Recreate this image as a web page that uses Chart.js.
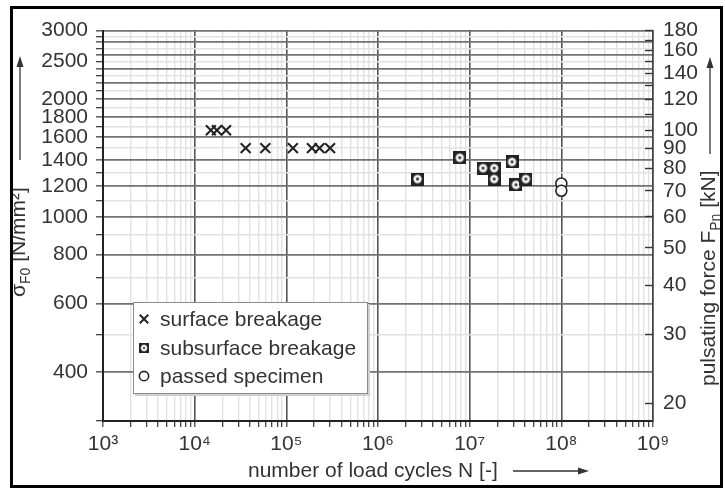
<!DOCTYPE html>
<html>
<head>
<meta charset="utf-8">
<script src="https://cdn.jsdelivr.net/npm/chart.js@4/dist/chart.umd.min.js"></script>
<style>
  html, body { margin: 0; padding: 0; background: #fff; }
  #wrap { position: relative; width: 725px; height: 490px; overflow: hidden; }
  #chart { position: absolute; left: 0; top: 0; }
  #frame { position: absolute; left: 10px; top: 6px; width: 713px; height: 482px;
           border: 3px solid #000; box-sizing: border-box; pointer-events: none; }
  #legend { position: absolute; left: 133px; top: 302px; width: 235px; height: 92px;
            border: 1px solid #8a8a8a; background: #fff; box-sizing: border-box;
            box-shadow: 2px 2px 0 #d0d0d0;
            font: 21px "Liberation Sans", Arial, sans-serif; color: #333; }
  #legend .item { position: absolute; left: 0; height: 26px; line-height: 26px; white-space: nowrap; }
  #legend .item canvas { position: absolute; left: 0; top: 3px; }
  #legend .item span { position: absolute; left: 26px; top: 0; }
</style>
</head>
<body>
<div id="wrap">
  <canvas id="chart" width="725" height="490"></canvas>
  <div id="legend"></div>
  <div id="frame"></div>
</div>
<script>
// Test results: load cycles N and tooth root stress sigma_F0 [N/mm²]
const surfaceCycles    = [1.5e4, 1.75e4, 2.2e4, 3.6e4, 5.9e4, 1.18e5, 1.9e5, 2.3e5, 3.0e5];
const surfaceStress    = [1667, 1667, 1667, 1500, 1500, 1500, 1500, 1500, 1500];
const subsurfaceCycles = [2.7e6, 7.8e6, 1.4e7, 1.85e7, 1.85e7, 2.9e7, 3.2e7, 4.1e7];
const subsurfaceStress = [1250, 1417, 1333, 1333, 1250, 1383, 1208, 1250];
const passedCycles     = [1e8, 1e8];
const passedStress     = [1217, 1167];

const seriesLabels      = ['surface breakage', 'subsurface breakage', 'passed specimen'];
const stressTickLabels  = [400, 600, 800, 1000, 1200, 1400, 1600, 1800, 2000, 2500, 3000];
const forceTickLabels   = [20, 30, 40, 50, 60, 70, 80, 90, 100, 120, 140, 160, 180];
const cycleExponents    = [3, 4, 5, 6, 7, 8, 9];

// Axis ranges: stress 300..3000 N/mm², pulsating force 18..180 kN (sigma = F * 1000/60)
const stressMin = 300, stressMax = 3000;
const forceMin = 18, forceMax = 180;

const FONT = '"Liberation Sans", Arial, sans-serif';
const SUP = { 3: '³', 4: '⁴', 5: '⁵', 6: '⁶', 7: '⁷', 8: '⁸', 9: '⁹' };

// tick positions: every 1..9 x 10^n on the cycle axis
const cycleTicks = [];
for (let n = cycleExponents[0]; n < cycleExponents[cycleExponents.length - 1]; n++) {
  for (let k = 1; k <= 9; k++) cycleTicks.push(k * Math.pow(10, n));
}
cycleTicks.push(Math.pow(10, cycleExponents[cycleExponents.length - 1]));

const stressTicks = [];
for (let v = stressMin; v <= stressMax; v += 100) stressTicks.push(v);

const forceTicks = [];
for (let v = 20; v <= forceMax; v += 10) forceTicks.push(v);

const isDecade = v => Math.abs(Math.log10(v) - Math.round(Math.log10(v))) < 1e-9;
const toPoints = (xs, ys) => xs.map((x, i) => ({ x: x, y: ys[i] }));

// square marker with a dotted ring for subsurface breakage
function makeSubsurfaceMarker(size) {
  const c = document.createElement('canvas');
  c.width = c.height = size;
  const g = c.getContext('2d');
  const m = size / 2;
  g.fillStyle = '#222';
  g.fillRect(0, 0, size, size);
  g.fillStyle = '#f4f4f4';
  g.beginPath(); g.arc(m, m, size * 0.32, 0, Math.PI * 2); g.fill();
  g.fillStyle = '#222';
  g.beginPath(); g.arc(m, m, size * 0.11, 0, Math.PI * 2); g.fill();
  return c;
}
const subsurfaceMarker = makeSubsurfaceMarker(13);

function drawArrow(ctx, x1, y1, x2, y2) {
  const a = Math.atan2(y2 - y1, x2 - x1), hl = 11, hw = 3.5;
  ctx.lineWidth = 1.3;
  ctx.beginPath();
  ctx.moveTo(x1, y1);
  ctx.lineTo(x2 - hl * 0.8 * Math.cos(a), y2 - hl * 0.8 * Math.sin(a));
  ctx.stroke();
  ctx.beginPath();
  ctx.moveTo(x2, y2);
  ctx.lineTo(x2 - hl * Math.cos(a) + hw * Math.sin(a), y2 - hl * Math.sin(a) - hw * Math.cos(a));
  ctx.lineTo(x2 - hl * Math.cos(a) - hw * Math.sin(a), y2 - hl * Math.sin(a) + hw * Math.cos(a));
  ctx.closePath();
  ctx.fill();
}

function drawRichText(ctx, parts, x, y) {
  let cx = x;
  parts.forEach(([t, sub]) => {
    ctx.font = (sub ? '14px ' : '21px ') + FONT;
    ctx.fillText(t, cx, y + (sub ? 5 : 0));
    cx += ctx.measureText(t).width;
  });
}

// axis titles with subscripts and direction arrows
const axisTitles = {
  id: 'axisTitles',
  afterDraw(chart) {
    const ctx = chart.ctx;
    ctx.save();
    ctx.fillStyle = '#333';
    ctx.strokeStyle = '#333';
    ctx.textBaseline = 'alphabetic';
    ctx.textAlign = 'left';

    drawRichText(ctx, [['number of load cycles N [-]']], 248, 477);
    drawArrow(ctx, 513, 471, 589, 471);

    ctx.save();
    ctx.translate(25, 297);
    ctx.rotate(-Math.PI / 2);
    drawRichText(ctx, [['σ'], ['F0', true], [' [N/mm²]']], 0, 0);
    ctx.restore();
    drawArrow(ctx, 20, 160, 20, 56);

    ctx.save();
    ctx.translate(715, 386);
    ctx.rotate(-Math.PI / 2);
    drawRichText(ctx, [['pulsating force F'], ['Pn', true], [' [kN]']], 0, 0);
    ctx.restore();
    drawArrow(ctx, 710, 154, 710, 57);

    ctx.restore();
  }
};

const tickFont = { family: FONT, size: 21 };

const chart = new Chart(document.getElementById('chart'), {
  type: 'scatter',
  data: {
    datasets: [
      {
        label: seriesLabels[0],
        data: toPoints(surfaceCycles, surfaceStress),
        pointStyle: 'crossRot', pointRadius: 7,
        borderColor: '#222', backgroundColor: '#222', borderWidth: 2
      },
      {
        label: seriesLabels[1],
        data: toPoints(subsurfaceCycles, subsurfaceStress),
        pointStyle: subsurfaceMarker, pointRadius: 7,
        borderColor: '#222', backgroundColor: '#222', borderWidth: 1
      },
      {
        label: seriesLabels[2],
        data: toPoints(passedCycles, passedStress),
        pointStyle: 'circle', pointRadius: 5.5,
        borderColor: '#222', backgroundColor: '#fff', borderWidth: 1.6
      }
    ]
  },
  options: {
    responsive: false,
    animation: false,
    events: [],
    layout: { padding: { top: 17, left: 0, right: 0, bottom: 0 } },
    plugins: { legend: { display: false }, tooltip: { enabled: false } },
    scales: {
      x: {
        type: 'logarithmic', position: 'bottom',
        min: cycleTicks[0], max: cycleTicks[cycleTicks.length - 1],
        afterBuildTicks: s => { s.ticks = cycleTicks.map(v => ({ value: v })); },
        afterFit: s => { s.height = 69; },
        ticks: {
          autoSkip: false, maxRotation: 0, minRotation: 0, padding: 5,
          color: '#333', font: tickFont,
          callback: v => isDecade(v) ? '10' + SUP[Math.round(Math.log10(v))] : ''
        },
        grid: {
          color: c => (c.tick && isDecade(c.tick.value)) ? '#555' : '#e2e2e2',
          lineWidth: c => (c.tick && isDecade(c.tick.value)) ? 1.6 : 1.4,
          tickLength: 6, tickColor: '#333', tickWidth: 1.2
        },
        border: { color: '#222', width: 2 }
      },
      y: {
        type: 'logarithmic', position: 'left',
        min: stressMin, max: stressMax,
        afterBuildTicks: s => { s.ticks = stressTicks.map(v => ({ value: v })); },
        afterFit: s => { s.width = 103; },
        ticks: {
          autoSkip: false, padding: 8, color: '#333', font: tickFont,
          callback: v => stressTickLabels.includes(v) ? String(v) : ''
        },
        grid: {
          color: c => (c.tick && c.tick.value % 200 === 0) ? '#727272' : '#e2e2e2',
          lineWidth: c => (c.tick && c.tick.value % 200 === 0) ? 1.7 : 1.4,
          tickLength: 7, tickColor: '#333', tickWidth: 1.2
        },
        border: { color: '#222', width: 2 }
      },
      y2: {
        type: 'logarithmic', position: 'right',
        min: forceMin, max: forceMax,
        afterBuildTicks: s => { s.ticks = forceTicks.map(v => ({ value: v })); },
        afterFit: s => { s.width = 72; },
        ticks: {
          autoSkip: false, padding: 18, color: '#333', font: tickFont,
          callback: v => forceTickLabels.includes(v) ? String(v) : ''
        },
        grid: {
          drawOnChartArea: false,
          tickLength: -8, tickColor: '#333', tickWidth: 1.4
        },
        border: { color: '#444', width: 1.5 }
      }
    }
  },
  plugins: [axisTitles]
});

// legend box placed inside the plot, built from the datasets
const legendBox = document.getElementById('legend');
const drawPoint = (Chart.helpers && Chart.helpers.drawPoint) ? Chart.helpers.drawPoint : null;
chart.data.datasets.forEach((ds, i) => {
  const row = document.createElement('div');
  row.className = 'item';
  row.style.top = (3 + i * 28.5) + 'px';
  const icon = document.createElement('canvas');
  icon.width = icon.height = 20;
  const g = icon.getContext('2d');
  g.strokeStyle = ds.borderColor;
  g.fillStyle = ds.backgroundColor;
  g.lineWidth = ds.borderWidth;
  if (drawPoint) {
    const style = ds.pointStyle;
    if (typeof style === 'string') {
      drawPoint(g, { pointStyle: style, radius: ds.pointRadius * 0.85, borderWidth: ds.borderWidth, rotation: 0 }, 10, 10);
    } else {
      g.drawImage(style, 10 - 5, 10 - 5, 10, 10);
    }
  }
  const label = document.createElement('span');
  label.textContent = ds.label;
  row.appendChild(icon);
  row.appendChild(label);
  legendBox.appendChild(row);
});
</script>
</body>
</html>
